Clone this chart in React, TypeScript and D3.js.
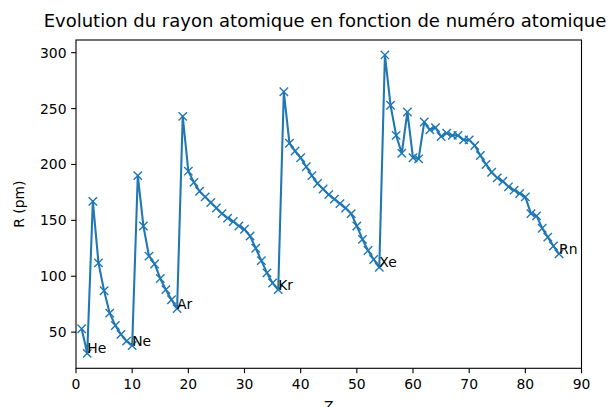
import React from 'react'
import * as d3 from 'd3'

// rayons atomiques (pm), Z = 1..86
const numeros = d3.range(1, 87)
const rayons = [
	53, 31,
	167, 112, 87, 67, 56, 48, 42, 38,
	190, 145, 118, 111, 98, 88, 79, 71,
	243, 194, 184, 176, 171, 166, 161, 156, 152, 149, 145, 142, 136, 125, 114, 103, 94, 88,
	265, 219, 212, 206, 198, 190, 183, 178, 173, 169, 165, 161, 156, 145, 133, 123, 115, 108,
	298, 253, 226, 210, 247, 206, 205, 238, 231, 233, 225, 228, 226, 226, 222, 222, 217,
	208, 200, 193, 188, 185, 180, 177, 174, 171, 156, 154, 143, 135, 127, 120,
]
const gazRares = ['He', 'Ne', 'Ar', 'Kr', 'Xe', 'Rn']
const gazRaresZ = [2, 10, 18, 36, 54, 86]
const xTicks = [0, 10, 20, 30, 40, 50, 60, 70, 80, 90]
const yTicks = [50, 100, 150, 200, 250, 300]

const W = 613
const H = 407
const left = 76
const right = 581.5
const top = 40
const bottom = 368.3
const bleu = '#1f77b4'
const font = 'DejaVu Sans, sans-serif'

export default function App() {
	const x = d3.scaleLinear().domain([0, 90]).range([left, right])
	const yMin = d3.min(rayons)
	const yMax = d3.max(rayons)
	const marge = (yMax - yMin) * 0.05
	const y = d3.scaleLinear().domain([yMin - marge, yMax + marge]).range([bottom, top])

	const points = numeros.map((z, i) => [z, rayons[i]])
	const line = d3.line()
		.x(d => x(d[0]))
		.y(d => y(d[1]))

	const m = 4.2

	return (
		<svg width={W} height={H} style={{position: 'absolute', left: 0, top: 0}} fontFamily={font}>
			<rect width={W} height={H} fill="#fff"/>
			<text x={325} y={27} fontSize={18} textAnchor="middle" fill="#000">
				Evolution du rayon atomique en fonction de numéro atomique
			</text>

			<defs>
				<clipPath id="zone">
					<rect x={left} y={top} width={right - left} height={bottom - top}/>
				</clipPath>
			</defs>

			<g clipPath="url(#zone)">
				<path d={line(points)} fill="none" stroke={bleu} strokeWidth={2.08} strokeLinejoin="round"/>
				{points.map((d, i) => (
					<path
						key={`m-${i}`}
						d={`M${x(d[0]) - m},${y(d[1]) - m}L${x(d[0]) + m},${y(d[1]) + m}M${x(d[0]) - m},${y(d[1]) + m}L${x(d[0]) + m},${y(d[1]) - m}`}
						stroke={bleu}
						strokeWidth={1.4}
					/>
				))}
			</g>

			{gazRares.map((nom, i) => (
				<text key={nom} x={x(gazRaresZ[i])} y={y(rayons[gazRaresZ[i] - 1])} fontSize={13.9} fill="#000">
					{nom}
				</text>
			))}

			<rect x={left} y={top} width={right - left} height={bottom - top} fill="none" stroke="#000" strokeWidth={1.1}/>

			{xTicks.map(t => (
				<g key={`x-${t}`}>
					<line x1={x(t)} x2={x(t)} y1={bottom} y2={bottom + 4.9} stroke="#000" strokeWidth={1.1}/>
					<text x={x(t)} y={bottom + 21} fontSize={13.9} textAnchor="middle" fill="#000">{t}</text>
				</g>
			))}
			{yTicks.map(t => (
				<g key={`y-${t}`}>
					<line x1={left - 4.9} x2={left} y1={y(t)} y2={y(t)} stroke="#000" strokeWidth={1.1}/>
					<text x={left - 9.5} y={y(t) + 5} fontSize={13.9} textAnchor="end" fill="#000">{t}</text>
				</g>
			))}

			<text x={(left + right) / 2} y={411} fontSize={13.9} textAnchor="middle" fill="#000">Z</text>
			<text transform={`translate(24,${(top + bottom) / 2}) rotate(-90)`} fontSize={13.9} textAnchor="middle" fill="#000">
				R (pm)
			</text>
		</svg>
	)
}
